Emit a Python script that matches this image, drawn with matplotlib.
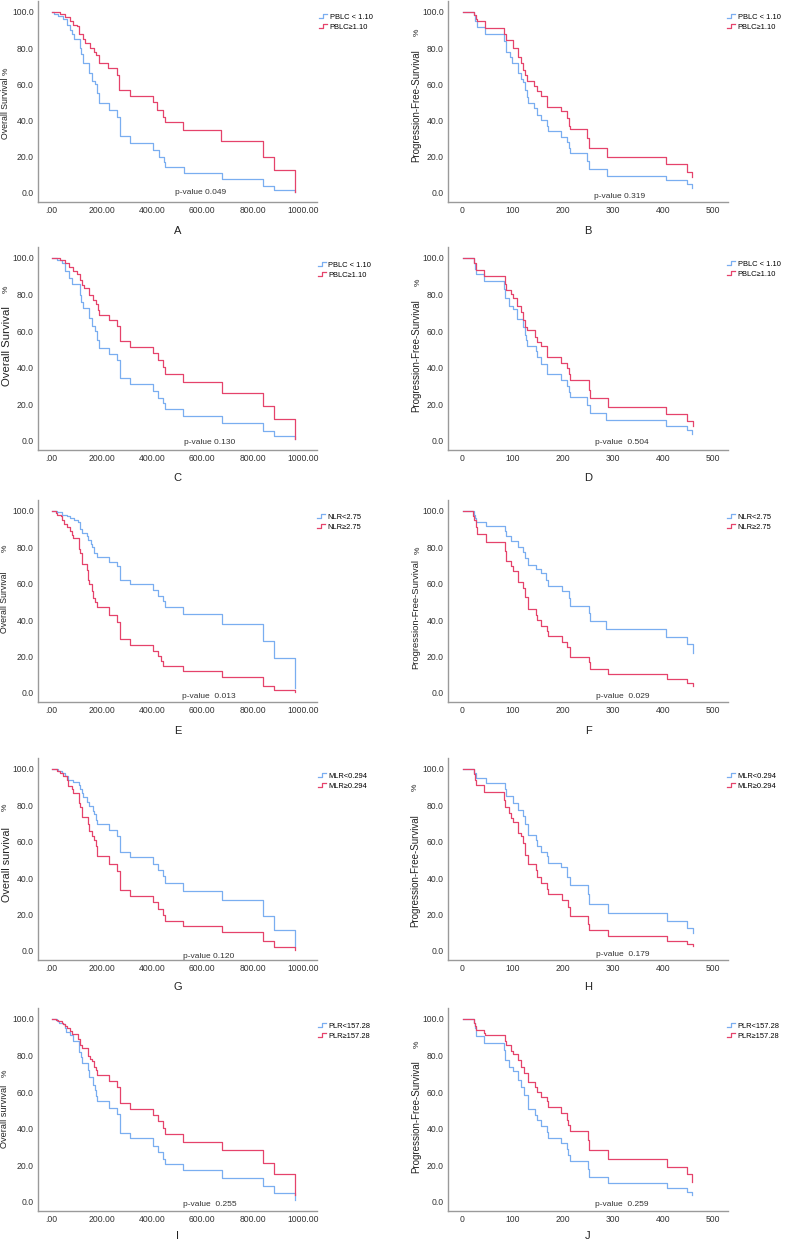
import matplotlib.pyplot as plt
from matplotlib.legend_handler import HandlerBase
from matplotlib.lines import Line2D

plt.rcParams['font.family'] = ['Liberation Sans', 'DejaVu Sans']

W, H = 790, 1239
BLUE = '#7aaef0'
RED = '#e5436b'

os_xticks = [0, 200, 400, 600, 800, 1000]
os_xticklabels = ['.00', '200.00', '400.00', '600.00', '800.00', '1000.00']
pfs_xticks = [0, 100, 200, 300, 400, 500]
pfs_xticklabels = ['0', '100', '200', '300', '400', '500']
yticks = [0, 20, 40, 60, 80, 100]
yticklabels = ['0.0', '20.0', '40.0', '60.0', '80.0', '100.0']

# ---- A: OS by PBLC ----
a_low_t = [0, 10, 27, 47, 60, 73, 80, 89, 113, 117, 126, 150, 160, 173, 180, 187, 227, 260, 271, 313, 403, 427, 447, 453, 527, 677, 840, 884, 969]
a_low_s = [100, 99, 97.5, 96, 93, 90, 88, 85, 80, 77, 72, 66, 62, 60, 55, 49.5, 46, 42, 31.5, 27.4, 23.8, 20, 17, 14.2, 11.2, 7.8, 3.6, 1.8, 0.5]
a_high_t = [0, 33, 53, 73, 87, 100, 111, 124, 133, 153, 167, 177, 187, 223, 260, 267, 313, 403, 420, 444, 453, 524, 673, 840, 884, 969]
a_high_s = [100, 99, 97, 95, 93, 92, 88, 85, 83, 80, 78, 76, 72, 69, 65, 57, 53.8, 50.5, 46, 42, 39, 34.8, 28.9, 20, 12.5, 0.7]

# ---- B: PFS by PBLC ----
b_low_t = [0, 23, 25, 28, 45, 83, 86, 94, 99, 111, 116, 121, 124, 128, 131, 143, 148, 156, 169, 170, 197, 209, 212, 215, 249, 252, 288, 407, 448, 459]
b_low_s = [100, 98, 95, 91.9, 87.7, 84, 78, 75.3, 71.6, 66, 63, 61.5, 56.9, 53, 49.9, 46.8, 43, 40.3, 37, 34.3, 31.1, 28.4, 25, 21.9, 17.9, 13.1, 9.6, 7, 4.8, 3]
b_high_t = [0, 23, 26, 28, 45, 83, 86, 100, 110, 116, 121, 124, 128, 143, 148, 156, 169, 196, 209, 212, 215, 249, 252, 288, 407, 448, 459]
b_high_s = [100, 98, 96, 94.7, 91.3, 88, 84.5, 80, 75.3, 72, 68, 65, 62, 59, 56.5, 53.8, 47.7, 45, 41.3, 37, 35.2, 30.2, 25, 20.1, 15.8, 11.8, 8.7]

# ---- C: OS by PBLC ----
c_low_t = [0, 20, 40, 53, 70, 83, 113, 117, 126, 147, 160, 173, 180, 187, 227, 260, 271, 313, 403, 423, 444, 452, 524, 677, 840, 884, 969]
c_low_s = [100, 99, 97, 93, 89, 86, 80, 76, 72.5, 67, 63, 60, 55, 51, 47.7, 44, 34.2, 31, 27.5, 23.5, 20.6, 17.3, 13.8, 9.8, 5.6, 2.7, 1]
c_high_t = [0, 33, 53, 70, 87, 100, 113, 120, 130, 150, 163, 177, 183, 190, 227, 260, 271, 313, 403, 423, 444, 452, 524, 677, 840, 884, 969]
c_high_s = [100, 99, 97.5, 95, 93, 91, 88, 85, 83.4, 80, 77, 75, 71.6, 69, 66, 62.7, 54.5, 51.4, 47.9, 44.1, 40.4, 36.4, 32, 26.2, 18.8, 11.8, 1]

# ---- D: PFS by PBLC ----
d_low_t = [0, 23, 25, 27, 43, 82, 85, 93, 100, 108, 120, 124, 126, 129, 146, 148, 157, 169, 196, 208, 212, 215, 248, 254, 287, 406, 448, 458]
d_low_s = [100, 97, 94, 91.4, 87.4, 83, 78, 74, 72, 66.9, 62.2, 58, 55, 51.9, 49, 45.7, 42, 36.4, 33.3, 30, 26.9, 24.1, 19.6, 15, 11.2, 8.2, 5.8, 4]
d_high_t = [0, 23, 27, 43, 84, 86, 96, 100, 108, 116, 120, 124, 128, 144, 148, 157, 168, 196, 208, 212, 215, 252, 254, 290, 407, 448, 460]
d_high_s = [100, 97, 93.2, 90.3, 86, 82.6, 80.3, 78, 73.5, 70.5, 66.2, 62, 60.7, 57, 54.3, 51.9, 46, 42.8, 40, 36.6, 33.3, 28, 23.2, 18.6, 14.6, 11, 8]

# ---- E: OS by NLR ----
e_low_t = [0, 20, 42, 62, 75, 91, 105, 112, 115, 122, 139, 143, 155, 162, 168, 179, 227, 260, 271, 313, 403, 423, 444, 452, 524, 677, 840, 884, 969]
e_low_s = [100, 99.5, 98, 97, 96, 95, 94, 92, 90, 88, 86, 83.8, 82, 80, 77, 74.6, 72.2, 69.7, 62, 59.6, 56.3, 53.5, 50.7, 47, 43.4, 37.9, 28.7, 19.1, 2.9]
e_high_t = [0, 16, 22, 36, 42, 50, 60, 75, 82, 85, 111, 115, 122, 139, 143, 150, 159, 165, 172, 179, 227, 260, 271, 313, 403, 423, 437, 444, 524, 677, 840, 884, 969]
e_high_s = [100, 99, 98, 97, 95, 93, 91, 89, 87, 85.3, 79.2, 77, 71, 67.3, 62, 60, 56, 52, 49.8, 47, 42.8, 38.8, 29.6, 26.5, 23.2, 20.4, 17.5, 14.9, 11.8, 8.5, 4, 1.7, 0.5]

# ---- F: PFS by NLR ----
f_low_t = [0, 23, 25, 27, 46, 85, 86, 96, 110, 120, 124, 131, 146, 157, 166, 171, 198, 212, 215, 253, 255, 287, 407, 448, 460]
f_low_s = [100, 98, 96, 93.8, 91.8, 89, 86.3, 83.5, 80.2, 77.5, 74, 70.1, 68, 66, 62, 58.8, 56, 52, 47.8, 44, 39.6, 35, 30.8, 26.7, 22.2]
f_high_t = [0, 21, 23, 27, 29, 47, 85, 86, 96, 100, 111, 120, 124, 131, 146, 149, 157, 168, 171, 199, 208, 215, 253, 255, 290, 409, 448, 460]
f_high_s = [100, 97, 95, 91.2, 87.2, 83, 78, 72.5, 70, 67, 61, 57.9, 52.9, 46, 43, 40, 36.8, 34, 31, 28.2, 25, 20, 17, 13, 10.3, 7.5, 5.7, 3.8]

# ---- G: OS by MLR ----
g_low_t = [0, 27, 40, 53, 66, 86, 109, 113, 120, 124, 142, 150, 164, 170, 177, 182, 227, 260, 271, 313, 403, 423, 444, 452, 524, 677, 840, 884, 969]
g_low_s = [100, 99, 98, 96, 94, 93, 91, 89, 86.6, 84.6, 82, 79.4, 77, 75.4, 72, 69.7, 66.6, 63.3, 54.3, 51.4, 47.7, 44.6, 40.9, 37.2, 32.7, 27.7, 19.4, 11.6, 2]
g_high_t = [0, 20, 33, 47, 60, 66, 80, 84, 109, 113, 121, 145, 150, 161, 170, 175, 182, 227, 260, 271, 313, 403, 423, 444, 452, 524, 677, 840, 884, 969]
g_high_s = [100, 99, 98, 96, 94, 90.8, 89, 86.8, 81.3, 79, 73.4, 70, 65.7, 63, 61, 57.4, 51.9, 47.9, 43.7, 33.2, 29.9, 26.6, 23.1, 20, 16.7, 13.8, 10.3, 5.5, 2, 0.5]

# ---- H: PFS by MLR ----
h_low_t = [0, 23, 27, 46, 85, 86, 100, 111, 120, 124, 131, 146, 149, 157, 169, 171, 196, 208, 215, 251, 253, 290, 409, 448, 460]
h_low_s = [100, 98, 95, 92.3, 89, 85.3, 81.3, 77.6, 74, 69.5, 63.8, 61, 57.4, 54.6, 52, 48.5, 46, 40.8, 36, 31, 25.7, 21, 16.5, 12.7, 9.6]
h_high_t = [0, 22, 25, 27, 43, 83, 85, 93, 96, 100, 110, 117, 120, 124, 131, 146, 149, 157, 169, 171, 199, 210, 215, 251, 253, 290, 409, 448, 460]
h_high_s = [100, 97, 94, 91.4, 87.3, 83, 79, 76, 73, 70.8, 65, 63, 59.2, 52.8, 47.8, 44.5, 40.8, 37.1, 34, 31.2, 27.9, 24, 19.1, 15, 11.4, 8.1, 5.5, 4, 2.6]

# ---- I: OS by PLR ----
i_low_t = [0, 20, 31, 47, 53, 57, 73, 84, 109, 116, 120, 143, 148, 164, 173, 177, 182, 227, 260, 271, 313, 403, 423, 444, 452, 524, 677, 840, 884, 969]
i_low_s = [100, 99, 98, 97, 95, 93, 91, 88, 82, 79, 75.9, 72.3, 68, 63.9, 61, 58, 55.1, 51.5, 47.8, 37.8, 34.7, 30.7, 27.4, 23.5, 20.6, 17.2, 13.1, 8.9, 5.1, 1]
i_high_t = [0, 17, 27, 40, 47, 53, 60, 73, 80, 107, 113, 120, 145, 151, 160, 167, 175, 180, 227, 260, 271, 313, 403, 423, 444, 452, 524, 677, 840, 884, 969]
i_high_s = [100, 99.5, 99, 98, 97, 96, 95, 93.5, 91.6, 89, 86, 83.9, 80, 78, 77, 74, 72, 69.3, 66, 62.6, 54, 51, 47.4, 44.3, 40.5, 36.9, 32.8, 28.1, 21.5, 15, 4]

# ---- J: PFS by PLR ----
j_low_t = [0, 22, 25, 27, 43, 83, 85, 93, 100, 110, 117, 122, 131, 144, 148, 157, 169, 170, 196, 208, 211, 215, 251, 252, 290, 408, 448, 459]
j_low_s = [100, 98, 95, 90.9, 86.9, 83, 77.3, 74, 71.5, 66.4, 63, 58.2, 50.9, 47.5, 44.5, 41.5, 38, 35.1, 32.4, 29, 25.5, 22.2, 18, 13.8, 10.2, 7.6, 5.5, 3.6]
j_high_t = [0, 22, 25, 27, 42, 45, 85, 86, 96, 100, 110, 117, 122, 131, 144, 148, 157, 169, 170, 196, 208, 211, 215, 251, 252, 290, 408, 448, 459]
j_high_s = [100, 98, 96, 94, 92.5, 91.3, 88, 85.5, 82.7, 80.9, 77.3, 74, 70.5, 65.5, 63, 60, 57.3, 55, 51.8, 48.7, 45, 42, 38.5, 34, 28.5, 23.6, 19.1, 15.1, 10.9]

pbl_labels = ['PBLC < 1.10', 'PBLC\u22651.10']
nlr_labels = ['NLR<2.75', 'NLR\u22652.75']
mlr_labels = ['MLR<0.294', 'MLR\u22650.294']
plr_labels = ['PLR<157.28', 'PLR\u2265157.28']

# letter, kind, labels, curves, p-value text, ylabel, ylabel size
panels = [
    ('A', 'os', pbl_labels, (a_low_t, a_low_s, a_high_t, a_high_s), 'p-value 0.049', 'Overall Survival', 6.3),
    ('B', 'pfs', pbl_labels, (b_low_t, b_low_s, b_high_t, b_high_s), 'p-value 0.319', 'Progression-Free-Survival', 7),
    ('C', 'os', pbl_labels, (c_low_t, c_low_s, c_high_t, c_high_s), 'p-value 0.130', 'Overall Survival', 8.2),
    ('D', 'pfs', pbl_labels, (d_low_t, d_low_s, d_high_t, d_high_s), 'p-value  0.504', 'Progression-Free-Survival', 7),
    ('E', 'os', nlr_labels, (e_low_t, e_low_s, e_high_t, e_high_s), 'p-value  0.013', 'Overall Survival', 6.3),
    ('F', 'pfs', nlr_labels, (f_low_t, f_low_s, f_high_t, f_high_s), 'p-value  0.029', 'Progression-Free-Survival', 6.8),
    ('G', 'os', mlr_labels, (g_low_t, g_low_s, g_high_t, g_high_s), 'p-value 0.120', 'Overall survival', 7.8),
    ('H', 'pfs', mlr_labels, (h_low_t, h_low_s, h_high_t, h_high_s), 'p-value  0.179', 'Progression-Free-Survival', 7),
    ('I', 'os', plr_labels, (i_low_t, i_low_s, i_high_t, i_high_s), 'p-value  0.255', 'Overall survival', 6.6),
    ('J', 'pfs', plr_labels, (j_low_t, j_low_s, j_high_t, j_high_s), 'p-value  0.259', 'Progression-Free-Survival', 7),
]

# pixel layout
rows = [(1, 202), (247, 450), (500, 702), (758, 960), (1008, 1211)]
cols = [(38, 317), (448, 728)]
letter_pad = [8, 7, 7.5, 6.5, 5]
ylab_pos = [(6, 108), (416, 106), (7, 346), (416, 356), (5, 602),
            (416, 614), (7, 864), (415, 871), (5, 1116), (416, 1117)]
pct_pos = [(6, 71), (417, 32), (6, 289), (418, 282), (5, 548),
           (418, 550), (5, 807), (415, 787), (5, 1073), (417, 1044)]
pval_pos = [(201, 193), (620, 197), (210, 443), (622, 443), (209, 696),
            (623, 696), (209, 957), (623, 955), (210, 1204), (622, 1205)]
leg_y = [22, 22, 270, 269, 522, 522, 781, 781, 1031, 1031]
leg_x = [319, 727, 318, 727, 317, 727, 318, 727, 318, 727]


class StepHandler(HandlerBase):
    # SPSS-like step glyph for the legend
    def create_artists(self, legend, orig_handle, xdescent, ydescent,
                       width, height, fontsize, trans):
        x0, x1 = -xdescent, -xdescent + width
        xm = (x0 + x1) / 2
        ylo, yhi = -ydescent + 0.15 * height, -ydescent + 0.8 * height
        line = Line2D([x0, xm, xm, x1], [ylo, ylo, yhi, yhi],
                      color=orig_handle.get_color(), lw=orig_handle.get_linewidth(),
                      transform=trans)
        return [line]


def fx(x):
    return x / W


def fy(y):
    return 1 - y / H


fig = plt.figure(figsize=(W / 100, H / 100), dpi=100)

for k, (letter, kind, labels, curves, ptxt, ylab, ysize) in enumerate(panels):
    top, bot = rows[k // 2]
    x0, x1 = cols[k % 2]
    ax = fig.add_axes([fx(x0), fy(bot), (x1 - x0) / W, (bot - top) / H])

    lt, ls, ht, hs = curves
    l1, = ax.step(lt, ls, where='post', color=BLUE, lw=0.9)
    l2, = ax.step(ht, hs, where='post', color=RED, lw=0.9)

    if kind == 'os':
        ax.set_xlim(-54, 1056)
        ax.set_xticks(os_xticks)
        ax.set_xticklabels(os_xticklabels)
    else:
        ax.set_xlim(-29, 530)
        ax.set_xticks(pfs_xticks)
        ax.set_xticklabels(pfs_xticklabels)
    ax.set_ylim(-5, 106)
    ax.set_yticks(yticks)
    ax.set_yticklabels(yticklabels)

    for s in ['top', 'right']:
        ax.spines[s].set_visible(False)
    for s in ['left', 'bottom']:
        ax.spines[s].set_color('#9a9a9a')
        ax.spines[s].set_linewidth(1.0)
    ax.tick_params(length=0, labelsize=6.2, colors='#333333', pad=3)

    ax.set_xlabel(letter, fontsize=8, color='#222222', labelpad=letter_pad[k // 2])

    ax.legend([l1, l2], labels, loc='center left',
              bbox_to_anchor=(fx(leg_x[k]), fy(leg_y[k])), bbox_transform=fig.transFigure,
              handler_map={Line2D: StepHandler()},
              frameon=False, fontsize=5.4, handlelength=1.1, handletextpad=0.3,
              labelspacing=0.35, borderpad=0, borderaxespad=0)

    px, py = ylab_pos[k]
    fig.text(fx(px), fy(py), ylab, rotation=90, ha='center', va='center',
             fontsize=ysize, color='#222222')
    qx, qy = pct_pos[k]
    fig.text(fx(qx), fy(qy), '%', rotation=90, ha='center', va='center',
             fontsize=6, color='#222222')
    vx, vy = pval_pos[k]
    fig.text(fx(vx), fy(vy), ptxt, ha='center', va='center', fontsize=6, color='#333333')

fig.savefig('out.png', dpi=100, facecolor='white')
